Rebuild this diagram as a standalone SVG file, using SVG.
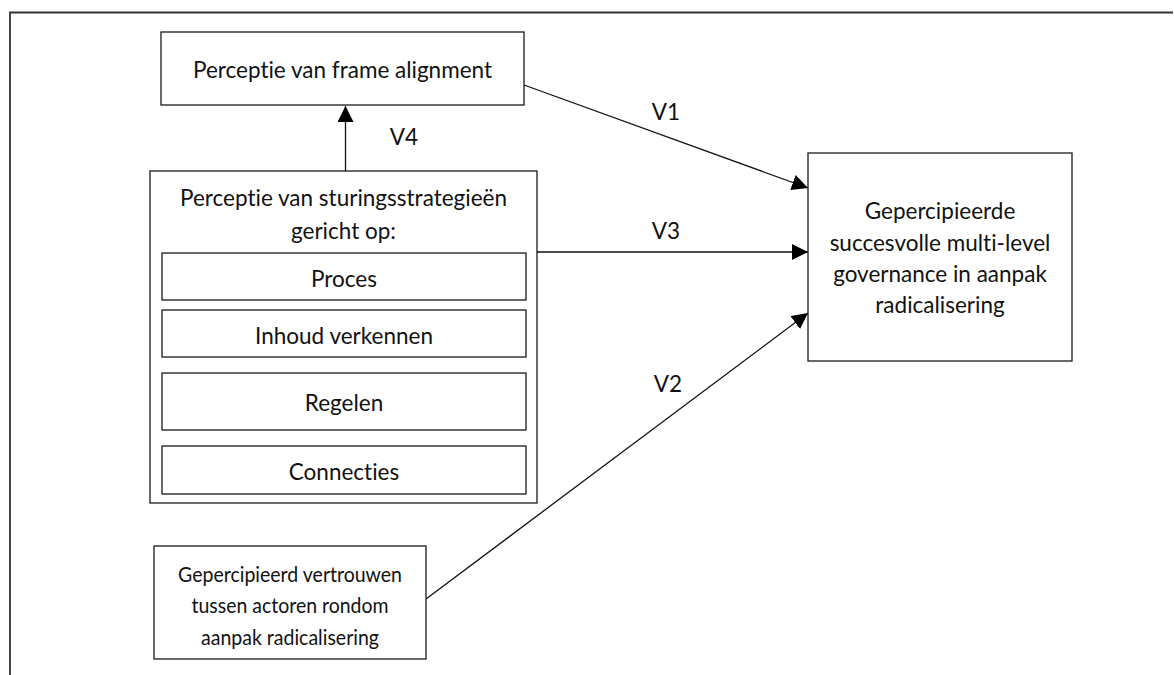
<svg xmlns="http://www.w3.org/2000/svg" width="1174" height="675" viewBox="0 0 1174 675">
<defs>
<style>
.box{fill:#fff;stroke:#1a1a1a;stroke-width:1.3}
.t{font-family:Lato,"Open Sans","Liberation Sans",sans-serif;font-size:22.5px;fill:#111;text-anchor:middle;dominant-baseline:central;font-variant-ligatures:none}
.s{font-size:22px}
.c{stroke:#111;stroke-width:1.3;fill:none}
</style>
<marker id="ah" viewBox="0 0 16 16" refX="16" refY="8" markerWidth="16" markerHeight="16" markerUnits="userSpaceOnUse" orient="auto">
<path d="M0,0 L16,8 L0,16 Z" fill="#000"/>
</marker>
</defs>
<rect width="1174" height="675" fill="#fff"/>
<g id="frame">
<path d="M10,675 V12.5 H1173" fill="none" stroke="#333" stroke-width="1.8"/>
</g>
<g id="connectors">
<line class="c" x1="345.5" y1="171" x2="345.5" y2="106" marker-end="url(#ah)"/>
<line class="c" x1="524" y1="85" x2="808" y2="188" marker-end="url(#ah)"/>
<line class="c" x1="537" y1="252" x2="808" y2="252" marker-end="url(#ah)"/>
<line class="c" x1="426" y1="599" x2="808" y2="313" marker-end="url(#ah)"/>
<text class="t" x="404" y="136">V4</text>
<text class="t" x="666" y="111">V1</text>
<text class="t" x="666" y="230">V3</text>
<text class="t" x="668" y="383">V2</text>
</g>
<g id="frame-alignment">
<rect class="box" x="161" y="32" width="363" height="73"/>
<text class="t" x="342.5" y="69">Perceptie van frame alignment</text>
</g>
<g id="sturingsstrategieen">
<rect class="box" x="150" y="171" width="387" height="332"/>
<text class="t" x="343.5" y="197">Perceptie van sturingsstrategieën</text>
<text class="t" x="343.5" y="230">gericht op:</text>
</g>
<g id="proces">
<rect class="box" x="162" y="253" width="364" height="47"/>
<text class="t" x="344" y="278">Proces</text>
</g>
<g id="inhoud">
<rect class="box" x="162" y="310" width="364" height="47"/>
<text class="t" x="344" y="335">Inhoud verkennen</text>
</g>
<g id="regelen">
<rect class="box" x="162" y="373" width="364" height="57"/>
<text class="t" x="344" y="402">Regelen</text>
</g>
<g id="connecties">
<rect class="box" x="162" y="446" width="364" height="48"/>
<text class="t" x="344" y="471">Connecties</text>
</g>
<g id="succes">
<rect class="box" x="808" y="153" width="264" height="208"/>
<text class="t" x="940" y="210">Gepercipieerde</text>
<text class="t" x="940" y="242">succesvolle multi-level</text>
<text class="t" x="940" y="273">governance in aanpak</text>
<text class="t" x="940" y="304">radicalisering</text>
</g>
<g id="vertrouwen">
<rect class="box" x="154" y="546" width="272" height="113"/>
<text class="t s" x="290" y="573" textLength="224" lengthAdjust="spacingAndGlyphs">Gepercipieerd vertrouwen</text>
<text class="t s" x="290" y="604" textLength="197" lengthAdjust="spacingAndGlyphs">tussen actoren rondom</text>
<text class="t s" x="290" y="636" textLength="178" lengthAdjust="spacingAndGlyphs">aanpak radicalisering</text>
</g>
</svg>
